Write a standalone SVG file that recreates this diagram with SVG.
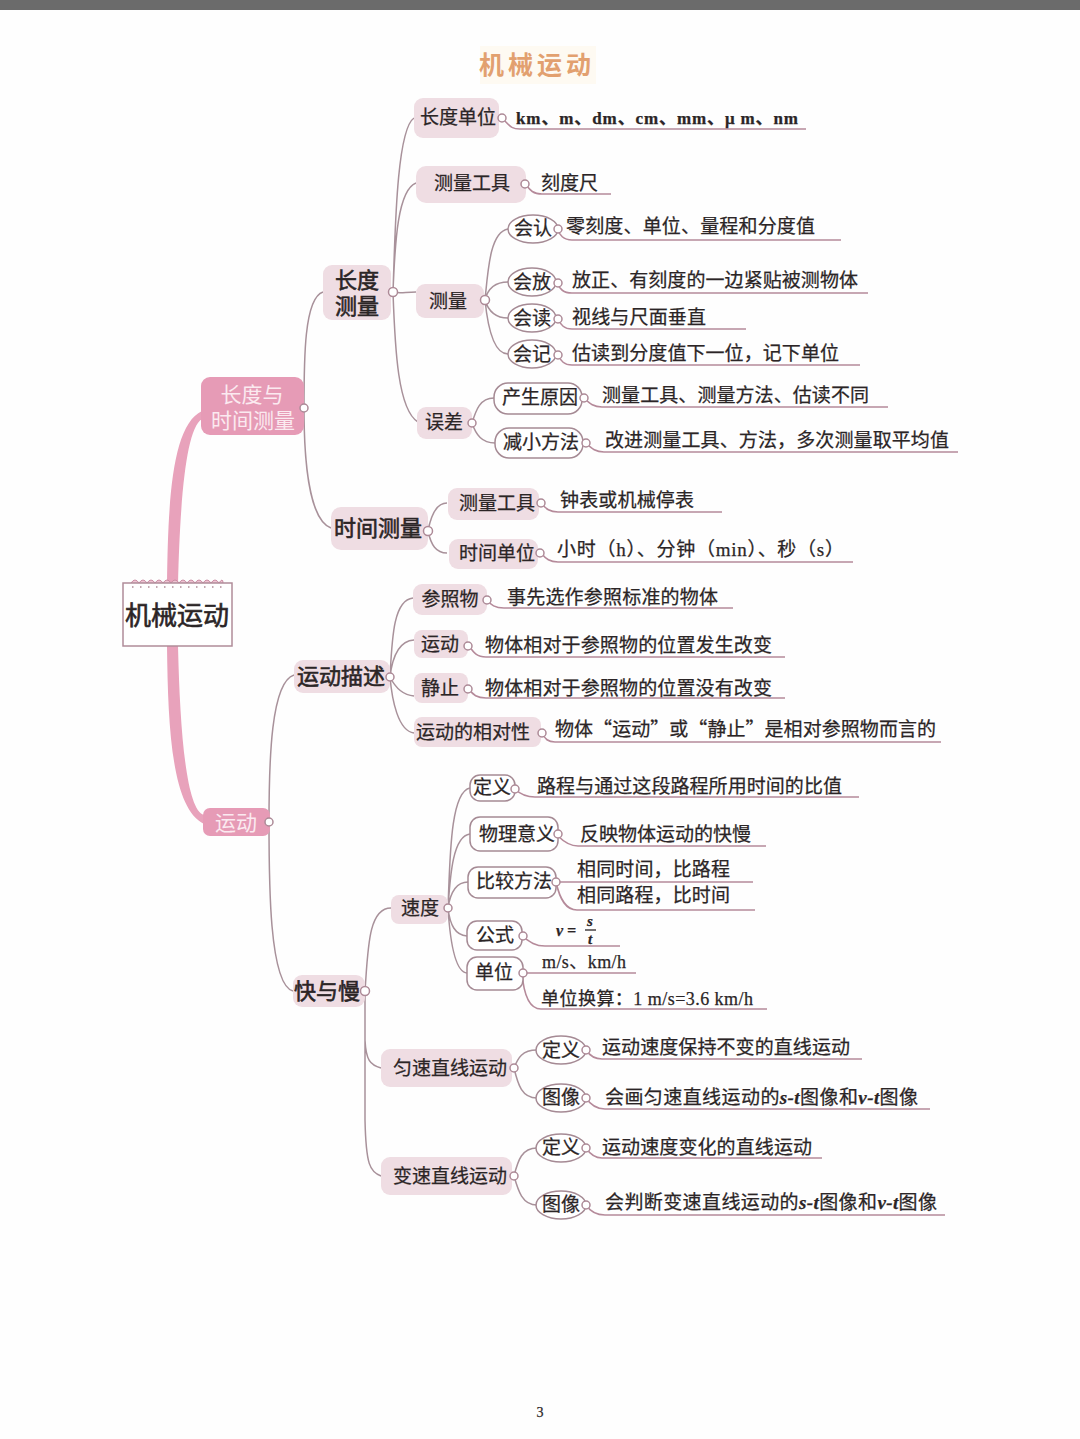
<svg xmlns="http://www.w3.org/2000/svg" width="1080" height="1439" viewBox="0 0 1080 1439">
<style>
text{font-family:"Liberation Serif","Noto Sans CJK SC",serif;font-size:19px;fill:#2b2526;stroke:#2b2526;stroke-width:.25px}
.s{font-family:"Noto Sans CJK SC","Liberation Sans",sans-serif}
.m{text-anchor:middle}
.b{stroke-width:.6px}
.w{fill:#fbeaf0;stroke:none;font-size:21px}
.l2{font-size:22px}
.c{fill:none;stroke:#a8919a;stroke-width:1.5}
.u{fill:none;stroke:#b58a9a;stroke-width:1.6}
.p{fill:#efdde3}
.o{fill:#fff;stroke:#a58a94;stroke-width:1.5}
.d{fill:#fff;stroke:#ad8a97;stroke-width:1.5}
.t{fill:#e69bb6}
.i{font-style:italic;font-weight:700;font-family:"Liberation Serif",serif}
</style>
<rect x="0" y="0" width="1080" height="1439" fill="#fefefe"/>
<rect x="0" y="0" width="1080" height="10" fill="#6b6b6b"/>
<g id="title"><rect x="480" y="46" width="116" height="38" fill="#fefaf2"/><text class="s m" x="537" y="74" style="font-size:25px;font-weight:700;fill:#e2a06f;stroke:none;letter-spacing:4px">机械运动</text></g>
<g id="connectors">
<path d="M167 585C168 500 172 425 202 411L202 419C186 428 180 500 178 585Z" fill="#e8a2bb"/>
<path d="M167 646C168 730 172 808 204 824L204 815C186 810 180 730 178 646Z" fill="#e8a2bb"/>
<path class="c" d="M304 408C304 360 304 298 323 292M304 408C304 460 309 520 331 528M269 822C269 760 271 682 294 675M269 822C269 880 269 985 293 991"/>
<path class="c" d="M393 292C395 240 396 130 414 118M393 292C395 240 398 190 416 183M393 292C400 294 405 292 416 292M393 292C395 350 398 410 418 422"/>
<path class="c" d="M485 300C488 270 490 232 508 229M485 300C488 288 495 282 508 282M485 300C488 310 495 318 508 318M485 300C488 330 495 354 508 354"/>
<path class="c" d="M472 423C476 410 480 398 494 398M472 423C476 435 482 443 495 443"/>
<path class="c" d="M428 531C431 515 436 503 447 503M428 531C431 545 436 553 447 553"/>
<path class="c" d="M390 677C392 640 393 600 413 598M390 677C392 660 397 641 414 640M390 677C393 683 400 695 414 696M390 677C392 700 398 731 414 733"/>
<path class="c" d="M365 991C368 950 368 908 391 908M365 991V1040C366 1060 370 1065 381 1068M365 1040V1120C366 1165 370 1172 381 1176"/>
<path class="c" d="M448 908C450 860 450 792 470 788M448 908C450 880 452 836 470 834M448 908C450 895 455 882 468 882M448 908C450 925 455 935 467 936M448 908C450 940 455 972 467 973"/>
<path class="c" d="M514 1068C518 1058 522 1050 537 1050M514 1068C518 1085 522 1098 537 1098M514 1176C518 1160 522 1148 537 1148M514 1176C518 1190 522 1205 537 1205"/>
<path class="u" d="M503 119C510 126 511 129 520 129H806M526 185C530 190 533 194 542 194H611M557 229C560 235 563 240 572 240H841M557 283C560 289 563 293 572 293H868M558 319C561 325 564 329 572 329H746M558 355C561 361 564 365 572 365H860M584 398C590 404 594 407 602 407H888M586 443C592 449 596 452 604 452H958"/>
<path class="u" d="M541 503C546 509 550 512 558 512H722M541 553C546 559 550 562 558 562H853M487 600C491 605 495 608 504 608H733M469 646C474 653 477 657 486 657H785M469 689C473 695 477 698 486 698H785M542 733C545 739 548 742 555 742H941"/>
<path class="u" d="M515 789C521 795 527 797 535 797H859M558 836C564 842 570 846 578 846H766M556 882H753M556 882C560 900 566 910 577 910H755M522 936C530 942 535 946 545 946H620M522 973H636M522 973C524 998 530 1009 541 1009H767"/>
<path class="u" d="M586 1050C590 1056 595 1059 602 1059H862M586 1098C590 1104 597 1109 605 1109H930M586 1148C590 1154 595 1158 602 1158H822M586 1205C590 1211 597 1215 605 1215H945"/>
</g>
<g id="n-root"><path d="M131 583q4-6 8 0q4-6 8 0q4-6 8 0q4-6 8 0q4-6 8 0q4-6 8 0q4-6 8 0q4-6 8 0q4-6 8 0q4-6 8 0q4-6 8 0q4-6 4 0" fill="#efc3d2" stroke="#c98ba2"/><rect x="123" y="583" width="109" height="63" fill="#fff" stroke="#b08c99" stroke-width="1.5"/><path d="M132 587H223" stroke="#b08c99" stroke-width="1.4" stroke-dasharray="1.5 6.5" fill="none"/><text class="s m b" x="177" y="625" style="font-size:26px">机械运动</text></g>
<g id="n-chang"><rect class="t" x="201" y="377" width="103" height="58" rx="9"/><text class="s m w" x="252" y="402">长度与</text><text class="s m w" x="253" y="428">时间测量</text><circle class="d" cx="304" cy="408" r="4"/></g>
<g id="n-yundong"><rect class="t" x="203" y="808" width="67" height="28" rx="7"/><text class="s m w" x="236" y="830">运动</text><circle class="d" cx="269" cy="822" r="4"/></g>
<g id="n-cd"><rect class="p" x="323" y="265" width="68" height="55" rx="9"/><text class="s m l2 b" x="357" y="288">长度</text><text class="s m l2 b" x="357" y="314">测量</text><circle class="d" cx="393" cy="292" r="4.5"/></g>
<g id="n-sj"><rect class="p" x="331" y="507" width="97" height="43" rx="10"/><text class="s m l2 b" x="378" y="536">时间测量</text><circle class="d" cx="428" cy="531" r="4.5"/></g>
<g id="n-msh"><rect class="p" x="294" y="660" width="96" height="33" rx="9"/><text class="s m l2 b" x="341" y="684">运动描述</text><circle class="d" cx="390" cy="677" r="4"/></g>
<g id="n-kym"><rect class="p" x="293" y="975" width="72" height="32" rx="9"/><text class="s m l2 b" x="327" y="999">快与慢</text><circle class="d" cx="365" cy="991" r="4.5"/></g>
<g id="n1"><rect class="p" x="414" y="98" width="85" height="40" rx="9"/><text class="s m" x="458" y="124">长度单位</text><circle class="d" cx="502" cy="118" r="4"/></g>
<g id="n2"><rect class="p" x="416" y="166" width="110" height="37" rx="10"/><text class="s m" x="472" y="190">测量工具</text><circle class="d" cx="525" cy="184" r="4"/></g>
<g id="n3"><rect class="p" x="416" y="284" width="68" height="34" rx="9"/><text class="s m" x="448" y="308">测量</text><circle class="d" cx="485" cy="300" r="4.5"/></g>
<g id="n4"><rect class="p" x="417" y="407" width="55" height="32" rx="9"/><text class="s m" x="444" y="429">误差</text><circle class="d" cx="472" cy="423" r="4"/></g>
<g id="n5"><ellipse class="o" cx="533" cy="229" rx="25" ry="14"/><text class="s m" x="533" y="235">会认</text><circle class="d" cx="558" cy="229" r="4"/></g>
<g id="n6"><ellipse class="o" cx="532" cy="282" rx="24" ry="14"/><text class="s m" x="532" y="289">会放</text><circle class="d" cx="558" cy="283" r="4"/></g>
<g id="n7"><ellipse class="o" cx="532" cy="318" rx="24" ry="14"/><text class="s m" x="532" y="325">会读</text><circle class="d" cx="558" cy="319" r="4"/></g>
<g id="n8"><ellipse class="o" cx="532" cy="354" rx="24" ry="14"/><text class="s m" x="532" y="361">会记</text><circle class="d" cx="558" cy="355" r="4"/></g>
<g id="n9"><rect class="o" x="494" y="383" width="88" height="31" rx="14"/><text class="s m" x="540" y="404">产生原因</text><circle class="d" cx="584" cy="398" r="4"/></g>
<g id="n10"><rect class="o" x="495" y="428" width="88" height="30" rx="14"/><text class="s m" x="541" y="449">减小方法</text><circle class="d" cx="586" cy="443" r="4"/></g>
<g id="n11"><rect class="p" x="448" y="488" width="91" height="32" rx="9"/><text class="s m" x="497" y="510">测量工具</text><circle class="d" cx="541" cy="503" r="4"/></g>
<g id="n12"><rect class="p" x="449" y="539" width="89" height="30" rx="9"/><text class="s m" x="497" y="560">时间单位</text><circle class="d" cx="540" cy="553" r="4"/></g>
<g id="n13"><rect class="p" x="413" y="584" width="74" height="31" rx="9"/><text class="s m" x="450" y="606">参照物</text><circle class="d" cx="487" cy="600" r="4"/></g>
<g id="n14"><rect class="p" x="414" y="630" width="54" height="28" rx="8"/><text class="s m" x="440" y="651">运动</text><circle class="d" cx="468" cy="646" r="4"/></g>
<g id="n15"><rect class="p" x="414" y="673" width="54" height="30" rx="8"/><text class="s m" x="440" y="695">静止</text><circle class="d" cx="468" cy="689" r="4"/></g>
<g id="n16"><rect class="p" x="414" y="717" width="127" height="30" rx="8"/><text class="s m" x="473" y="739">运动的相对性</text><circle class="d" cx="542" cy="733" r="4"/></g>
<g id="n17"><rect class="p" x="391" y="895" width="57" height="29" rx="8"/><text class="s m" x="420" y="915">速度</text><circle class="d" cx="448" cy="908" r="4"/></g>
<g id="n18"><rect class="p" x="381" y="1049" width="131" height="38" rx="9"/><text class="s m" x="450" y="1075">匀速直线运动</text><circle class="d" cx="514" cy="1068" r="4"/></g>
<g id="n19"><rect class="p" x="381" y="1157" width="131" height="38" rx="9"/><text class="s m" x="450" y="1183">变速直线运动</text><circle class="d" cx="514" cy="1176" r="4"/></g>
<g id="n20"><rect class="o" x="470" y="775" width="45" height="26" rx="10"/><text class="s m" x="492" y="794">定义</text><circle class="d" cx="515" cy="789" r="4"/></g>
<g id="n21"><rect class="o" x="470" y="817" width="88" height="34" rx="10"/><text class="s m" x="517" y="841">物理意义</text><circle class="d" cx="558" cy="834" r="4"/></g>
<g id="n22"><rect class="o" x="468" y="867" width="88" height="31" rx="10"/><text class="s m" x="514" y="888">比较方法</text><circle class="d" cx="556" cy="882" r="4"/></g>
<g id="n23"><rect class="o" x="467" y="921" width="55" height="29" rx="10"/><text class="s m" x="495" y="942">公式</text><circle class="d" cx="523" cy="936" r="4"/></g>
<g id="n24"><rect class="o" x="467" y="957" width="56" height="33" rx="10"/><text class="s m" x="494" y="979">单位</text><circle class="d" cx="523" cy="973" r="4"/></g>
<g id="n25"><ellipse class="o" cx="561" cy="1050" rx="25" ry="14"/><text class="s m" x="561" y="1057">定义</text><circle class="d" cx="586" cy="1050" r="4"/></g>
<g id="n26"><ellipse class="o" cx="561" cy="1098" rx="25" ry="14"/><text class="s m" x="561" y="1104">图像</text><circle class="d" cx="586" cy="1098" r="4"/></g>
<g id="n27"><ellipse class="o" cx="561" cy="1148" rx="25" ry="14"/><text class="s m" x="561" y="1154">定义</text><circle class="d" cx="586" cy="1148" r="4"/></g>
<g id="n28"><ellipse class="o" cx="561" cy="1205" rx="25" ry="14"/><text class="s m" x="561" y="1211">图像</text><circle class="d" cx="586" cy="1205" r="4"/></g>
<g id="leaves">
<text x="516" y="124" textLength="282" style="font-size:17px;font-weight:700">km、m、dm、cm、mm、μ m、nm</text>
<text class="s" x="541" y="190">刻度尺</text>
<text class="s" x="566" y="233" textLength="249">零刻度、单位、量程和分度值</text>
<text class="s" x="572" y="287" textLength="286">放正、有刻度的一边紧贴被测物体</text>
<text class="s" x="572" y="324" textLength="134">视线与尺面垂直</text>
<text class="s" x="572" y="360" textLength="267">估读到分度值下一位，记下单位</text>
<text class="s" x="602" y="402" textLength="267">测量工具、测量方法、估读不同</text>
<text class="s" x="605" y="447" textLength="344">改进测量工具、方法，多次测量取平均值</text>
<text class="s" x="560" y="507" textLength="134">钟表或机械停表</text>
<text x="557" y="556" textLength="287">小时（h）、分钟（min）、秒（s）</text>
<text class="s" x="507" y="604" textLength="211">事先选作参照标准的物体</text>
<text class="s" x="485" y="652" textLength="287">物体相对于参照物的位置发生改变</text>
<text class="s" x="485" y="695" textLength="287">物体相对于参照物的位置没有改变</text>
<text class="s" x="555" y="736" textLength="381">物体“运动”或“静止”是相对参照物而言的</text>
<text class="s" x="537" y="793" textLength="305">路程与通过这段路程所用时间的比值</text>
<text class="s" x="580" y="841" textLength="171">反映物体运动的快慢</text>
<text class="s" x="577" y="876" textLength="153">相同时间，比路程</text>
<text class="s" x="577" y="902" textLength="153">相同路程，比时间</text>
<text class="i" x="556" y="936" style="font-size:16px">v =</text>
<text class="m i" x="590" y="926" style="font-size:15px">s</text>
<path d="M585 930H596" stroke="#2b2526" stroke-width="1.3"/>
<text class="m i" x="590" y="944" style="font-size:15px">t</text>
<text x="542" y="968" textLength="84" style="font-size:18px">m/s、km/h</text>
<text x="541" y="1005" textLength="212" style="font-size:18px">单位换算：1 m/s=3.6 km/h</text>
<text class="s" x="602" y="1054" textLength="248">运动速度保持不变的直线运动</text>
<text class="s" x="605" y="1104" textLength="313">会画匀速直线运动的<tspan class="i">s-t</tspan>图像和<tspan class="i">v-t</tspan>图像</text>
<text class="s" x="602" y="1154" textLength="210">运动速度变化的直线运动</text>
<text class="s" x="605" y="1209" textLength="332">会判断变速直线运动的<tspan class="i">s-t</tspan>图像和<tspan class="i">v-t</tspan>图像</text>
</g>
<text id="page" class="m" x="540" y="1417" style="font-size:14px">3</text>
</svg>
